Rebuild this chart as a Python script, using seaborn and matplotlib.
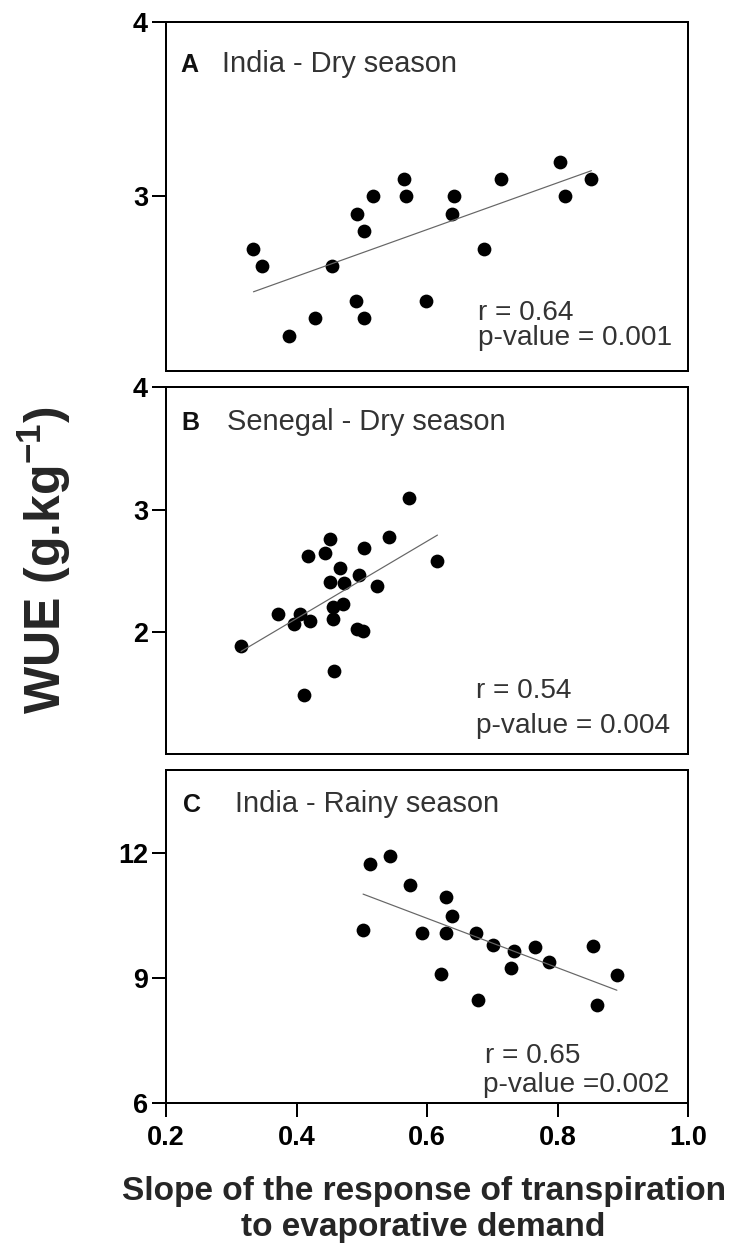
import matplotlib
matplotlib.use('Agg')
import matplotlib.pyplot as plt
import numpy as np
import pandas as pd
import seaborn as sns

# A - India, dry season
india_dry_slope = [0.334, 0.347, 0.389, 0.429, 0.455, 0.492, 0.504, 0.491, 0.503, 0.517,
                   0.565, 0.568, 0.598, 0.642, 0.638, 0.687, 0.714, 0.804, 0.811, 0.852]
india_dry_wue = [2.70, 2.60, 2.20, 2.30, 2.60, 2.90, 2.80, 2.40, 2.30, 3.00,
                 3.10, 3.00, 2.40, 3.00, 2.90, 2.70, 3.10, 3.20, 3.00, 3.10]

# B - Senegal, dry season
senegal_slope = [0.315, 0.371, 0.396, 0.405, 0.420, 0.418, 0.451, 0.444, 0.466, 0.451,
                 0.473, 0.496, 0.503, 0.472, 0.456, 0.456, 0.493, 0.502, 0.524, 0.541,
                 0.572, 0.616, 0.457, 0.412]
senegal_wue = [1.885, 2.145, 2.063, 2.151, 2.088, 2.62, 2.76, 2.643, 2.52, 2.41,
               2.397, 2.47, 2.689, 2.233, 2.205, 2.11, 2.028, 2.008, 2.375, 2.774,
               3.093, 2.582, 1.678, 1.487]

# C - India, rainy season
india_rainy_slope = [0.502, 0.512, 0.543, 0.574, 0.593, 0.629, 0.639, 0.629, 0.621, 0.675,
                     0.678, 0.701, 0.733, 0.729, 0.766, 0.787, 0.854, 0.860, 0.891]
india_rainy_wue = [10.15, 11.75, 11.93, 11.24, 10.08, 10.96, 10.49, 10.08, 9.11, 10.08,
                   8.49, 9.79, 9.65, 9.25, 9.75, 9.39, 9.77, 8.35, 9.07]

panel_letters = ['A', 'B', 'C']
panel_titles = ['India - Dry season', 'Senegal - Dry season', 'India - Rainy season']
r_labels = ['r = 0.64', 'r = 0.54', 'r = 0.65']
p_labels = ['p-value = 0.001', 'p-value = 0.004', 'p-value =0.002']
y_limits = [(2, 4), (1, 4), (6, 14)]
y_ticks = [[3, 4], [2, 3, 4], [6, 9, 12]]
x_ticks = [0.2, 0.4, 0.6, 0.8, 1.0]

sns.set_style('ticks')
plt.rcParams['font.family'] = ['Liberation Sans', 'DejaVu Sans']
plt.rcParams['mathtext.fontset'] = 'custom'
plt.rcParams['mathtext.rm'] = 'Liberation Sans'
plt.rcParams['mathtext.bf'] = 'Liberation Sans:bold'

fig = plt.figure(figsize=(733 / 72, 1245 / 72), dpi=72)

# axes boxes in figure fractions: [left, bottom, width, height]
boxes = [[0.2265, 0.7024, 0.7121, 0.2797],
         [0.2265, 0.3940, 0.7121, 0.2950],
         [0.2265, 0.1138, 0.7121, 0.2677]]
# text placement per panel (axes fractions)
letter_x = [0.027, 0.030, 0.033]
title_x = [0.107, 0.117, 0.132]
title_y = [0.857, 0.883, 0.874]
r_pos = [(0.598, 0.145), (0.594, 0.154), (0.611, 0.121)]
p_pos = [(0.598, 0.073), (0.594, 0.0585), (0.607, 0.034)]

data = [pd.DataFrame({'slope': india_dry_slope, 'wue': india_dry_wue}),
        pd.DataFrame({'slope': senegal_slope, 'wue': senegal_wue}),
        pd.DataFrame({'slope': india_rainy_slope, 'wue': india_rainy_wue})]

for i, df in enumerate(data):
    ax = fig.add_axes(boxes[i])
    sns.regplot(x='slope', y='wue', data=df, ax=ax, ci=None,
                scatter_kws={'s': 190, 'color': 'black', 'linewidths': 0, 'alpha': 1},
                line_kws={'color': '#666666', 'lw': 1.2})
    ax.set_xlim(0.2, 1.0)
    ax.set_ylim(*y_limits[i])
    ax.set_yticks(y_ticks[i])
    ax.set_xlabel('')
    ax.set_ylabel('')
    for s in ax.spines.values():
        s.set_visible(True)
        s.set_linewidth(2)
        s.set_color('black')
    ax.tick_params(axis='y', length=14, width=2, pad=4, labelsize=27, colors='black')
    if i == 2:
        ax.set_xticks(x_ticks)
        ax.set_xticklabels(['%.1f' % t for t in x_ticks])
        ax.tick_params(axis='x', length=14, width=2, pad=8, labelsize=27, colors='black')
    else:
        ax.set_xticks([])
    for lab in ax.get_xticklabels() + ax.get_yticklabels():
        lab.set_fontweight('bold')

    ax.text(letter_x[i], title_y[i], panel_letters[i], transform=ax.transAxes,
            fontsize=25, fontweight='bold', color='#111111', va='baseline')
    ax.text(title_x[i], title_y[i], panel_titles[i], transform=ax.transAxes,
            fontsize=29, color='#333333', va='baseline')
    ax.text(r_pos[i][0], r_pos[i][1], r_labels[i], transform=ax.transAxes,
            fontsize=28, color='#333333', va='baseline')
    ax.text(p_pos[i][0], p_pos[i][1], p_labels[i], transform=ax.transAxes,
            fontsize=28, color='#333333', va='baseline')

fig.text(0.061, 0.55, r'WUE (g.kg$^{\mathbf{-1}}$)', rotation=90, fontsize=50,
         fontweight='bold', ha='center', va='center')
fig.text(0.578, 0.0285, 'Slope of the response of transpiration\nto evaporative demand',
         fontsize=33.5, fontweight='bold', ha='center', va='center',
         multialignment='center', linespacing=1.2)

fig.savefig('out.png', dpi=72)
